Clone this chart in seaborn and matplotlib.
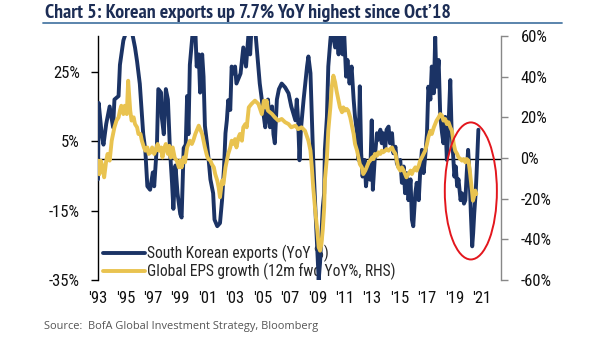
import matplotlib
matplotlib.use("Agg")
import matplotlib.pyplot as plt
import seaborn as sns
import pandas as pd
from matplotlib.patches import Ellipse
from matplotlib.lines import Line2D

# ---------------- data ----------------
export_years = [1993.00, 1993.05, 1993.27, 1993.40, 1993.60, 1993.85, 1994.10, 1994.20, 1994.50, 1994.60,
                1994.85, 1995.10, 1995.40, 1995.70, 1995.85, 1996.05, 1996.30, 1996.45, 1996.60, 1996.80,
                1997.00, 1997.10, 1997.30, 1997.40, 1997.60, 1997.65, 1997.80, 1997.95, 1998.10, 1998.25,
                1998.40, 1998.50, 1998.65, 1998.80, 1999.00, 1999.10, 1999.25, 1999.40, 1999.50, 1999.60,
                1999.70, 1999.90, 2000.10, 2000.20, 2000.35, 2000.45, 2000.60, 2000.70, 2000.80, 2000.95,
                2001.05, 2001.20, 2001.40, 2001.50, 2001.70, 2001.90, 2002.05, 2002.20, 2002.30, 2002.40,
                2002.50, 2002.65, 2002.75, 2002.90, 2003.00, 2003.10, 2003.40, 2003.60, 2003.80, 2004.00,
                2004.10, 2004.20, 2004.45, 2004.60, 2004.70, 2004.80, 2004.95, 2005.10, 2005.20, 2005.30,
                2005.40, 2005.55, 2005.70, 2005.80, 2005.90, 2006.05, 2006.20, 2006.40, 2006.65, 2006.90,
                2007.10, 2007.40, 2007.50, 2007.60, 2007.70, 2007.80, 2008.00, 2008.25, 2008.35, 2008.50,
                2008.60, 2008.70, 2008.85, 2009.00, 2009.10, 2009.20, 2009.30, 2009.40, 2009.50, 2009.55,
                2009.70, 2009.80, 2009.95, 2010.05, 2010.30, 2010.40, 2010.55, 2010.65, 2010.85, 2010.95,
                2011.10, 2011.20, 2011.35, 2011.50, 2011.65, 2011.75, 2011.90, 2012.00, 2012.10, 2012.20,
                2012.30, 2012.45, 2012.55, 2012.70, 2012.85, 2012.97, 2013.05, 2013.20, 2013.35, 2013.45,
                2013.60, 2013.70, 2013.80, 2013.95, 2014.05, 2014.20, 2014.30, 2014.45, 2014.55, 2014.70,
                2014.80, 2014.90, 2015.05, 2015.17, 2015.30, 2015.40, 2015.50, 2015.65, 2015.80, 2015.90,
                2016.00, 2016.15, 2016.25, 2016.40, 2016.50, 2016.63, 2016.75, 2016.87, 2017.00, 2017.10,
                2017.25, 2017.35, 2017.50, 2017.60, 2017.70, 2017.85, 2017.97, 2018.10, 2018.20, 2018.33,
                2018.45, 2018.57, 2018.70, 2018.80, 2018.90, 2019.00, 2019.10, 2019.20, 2019.30, 2019.45,
                2019.55, 2019.70, 2019.80, 2019.90, 2020.00, 2020.10, 2020.20, 2020.30, 2020.37, 2020.45,
                2020.55, 2020.62, 2020.68, 2020.75]
export_yoy = [-6, 16, 7, 4, 10, 15, 9, 17, 18, 27,
              34, 37, 38, 32, 28, 21.5, 7, 2.5, -8, -9,
              -4, -8, 4, 20, 19, 12, 7, 20, 17, 2.5,
              -7, -14.5, -2, -10, -16, -17, 3, 4, 18, 7,
              27, 36, 37, 26.5, 30, 19, 30, 23.6, 9.4, 4.4,
              0.6, -6, -10, -17.6, -19.5, -18.6, -12, -2, 7.3, 11,
              16.8, 14, 26.5, 24.5, 26.5, 21.6, 24.5, 32, 26.5, 37,
              30, 38, 38, 31, 26.5, 21.6, 17, 12, 9, 12,
              17, 9, 15, 7, 4.4, 17, 20, 21.6, 20.5, 18.8,
              15, 11, 17, 11, -0.5, 8.3, 17, 26.5, 29.4, 24.6,
              12, -0.4, -13.8, -26.3, -35, -30, -22, -14, -10, 2.5,
              12, 26.5, 34, 38, 32, 38, 30, 38, 30, 37,
              23.6, 28.4, 21.6, 26.5, 17, 12, 7.3, -0.4, 20.8, 1.5,
              -5.2, -0.4, -8, -2.3, -6.1, 11, -9, 0.6, 7.3, 5.4,
              8.3, 4.4, 7.3, 2.5, 8.3, 9.2, 4.4, 7.3, 1.5, 3.4,
              -1.3, -2.3, -0.4, -7, -2.3, -10, -4.2, -12, -6, -17.6,
              -19.5, -10, -7, -12, -4.2, 2.5, -4.2, 0.6, 7.3, 20.7,
              17, 26.5, 18.8, 35, 20.7, 28.4, 12, 7.3, 4.4, 12,
              -0.4, 9.2, 22.6, 7.3, 1.5, -5.2, -2.3, -8, -6, -12,
              -10, -13, -12, -4.2, 2.5, -4.2, -15.7, -25.3, -21.5, -15.7,
              -10, -4.2, 1.5, 8.3]

eps_years = [1993.00, 1993.10, 1993.20, 1993.35, 1993.45, 1993.60, 1993.70, 1993.85, 1994.00, 1994.10,
             1994.20, 1994.35, 1994.50, 1994.60, 1994.70, 1994.85, 1994.95, 1995.10, 1995.20, 1995.35,
             1995.45, 1995.60, 1995.70, 1995.85, 1995.95, 1996.10, 1996.20, 1996.35, 1996.45, 1996.60,
             1996.70, 1996.85, 1996.95, 1997.10, 1997.20, 1997.35, 1997.45, 1997.60, 1997.70, 1997.85,
             1997.95, 1998.10, 1998.20, 1998.30, 1998.45, 1998.60, 1998.75, 1998.90, 1999.00, 1999.10,
             1999.25, 1999.35, 1999.50, 1999.60, 1999.70, 1999.85, 1999.95, 2000.10, 2000.20, 2000.35,
             2000.45, 2000.60, 2000.70, 2000.80, 2000.95, 2001.05, 2001.20, 2001.30, 2001.45, 2001.55,
             2001.70, 2001.80, 2001.90, 2002.05, 2002.15, 2002.30, 2002.40, 2002.50, 2002.65, 2002.75,
             2002.90, 2003.00, 2003.10, 2003.25, 2003.35, 2003.50, 2003.60, 2003.75, 2003.85, 2004.00,
             2004.20, 2004.45, 2004.70, 2004.95, 2005.10, 2005.20, 2005.30, 2005.40, 2005.70, 2005.90,
             2006.15, 2006.40, 2006.65, 2006.90, 2007.10, 2007.40, 2007.60, 2007.85, 2008.10, 2008.35,
             2008.50, 2008.60, 2008.70, 2008.85, 2009.00, 2009.10, 2009.20, 2009.30, 2009.40, 2009.50,
             2009.55, 2009.70, 2009.80, 2009.95, 2010.05, 2010.17, 2010.30, 2010.40, 2010.55, 2010.65,
             2010.80, 2010.90, 2011.00, 2011.15, 2011.25, 2011.40, 2011.50, 2011.65, 2011.75, 2011.90,
             2012.00, 2012.10, 2012.25, 2012.35, 2012.50, 2012.60, 2012.75, 2012.85, 2013.00, 2013.10,
             2013.20, 2013.35, 2013.45, 2013.60, 2013.70, 2013.80, 2013.95, 2014.05, 2014.20, 2014.30,
             2014.45, 2014.55, 2014.70, 2014.80, 2014.90, 2015.05, 2015.17, 2015.30, 2015.40, 2015.50,
             2015.65, 2015.80, 2015.90, 2016.00, 2016.15, 2016.25, 2016.40, 2016.50, 2016.63, 2016.75,
             2016.87, 2017.00, 2017.10, 2017.25, 2017.35, 2017.50, 2017.60, 2017.70, 2017.85, 2017.97,
             2018.10, 2018.20, 2018.33, 2018.45, 2018.57, 2018.70, 2018.82, 2018.95, 2019.06, 2019.20,
             2019.30, 2019.45, 2019.55, 2019.67, 2019.80, 2019.90, 2020.03, 2020.15, 2020.28, 2020.35,
             2020.42, 2020.52, 2020.60]
eps_yoy = [-1.3, -8, -1.3, -4.6, -9.5, -1.3, 2, -1.3, 8.5, 11.8,
           15.1, 18.4, 20, 23.3, 25.7, 21.6, 25.7, 21.6, 38, 23.3,
           18.4, 20, 16.7, 15.1, 11.8, 11.8, 8.5, 5.2, 3.6, 5.2,
           2, 2.8, 5.2, 2, 3.6, 6.9, 3.6, 5.2, 0.3, 5.2,
           6.9, 2, 6, 0.3, 5.2, 0, -1.3, -4.6, -1.3, -4.6,
           0.3, -2.1, 5.2, 6.9, 8.5, 6.9, 8.5, 11.8, 13.4, 15.9,
           14.2, 11.8, 8.5, 5.2, 1.1, -0.5, -1.3, -3, -4.6, -7.9,
           -11.1, -14.4, -19.3, -11.1, -12.8, -4.6, -1.3, 2, 5.2, 8.5,
           6.9, 9.3, 5.2, 10.2, 11.8, 8.5, 15.1, 16.7, 15.1, 24.9,
           26.6, 28.2, 26.6, 21.6, 28.2, 24.9, 28.2, 23.3, 21.6, 20,
           18.4, 19.2, 17.6, 16.7, 15.1, 15.9, 14.2, 15.1, 13.4, 8.5,
           3.6, -4.6, -14.4, -25.9, -35.8, -43.9, -45.6, -42.3, -35, -24.3,
           -11.1, 0.3, 13.4, 24.9, 34.8, 40.5, 37.2, 33.1, 28.2, 24.9,
           22.5, 24.9, 23.3, 24.1, 23.3, 20, 16.7, 11.8, 6.9, 3.6,
           0.3, -3, -4.6, -7.9, -6.2, -4.6, -2.1, -1.3, 0.3, -0.5,
           2, 1.1, 2.8, 2, 3.6, 2.8, 3.6, 4.4, 3.6, 4.4,
           5.2, 3.6, 2, -1.3, -4.6, -6.2, -4.6, -6.2, -7.9, -9.5,
           -7.9, -6.2, -7.9, -6.2, -4.6, -6.2, -3.8, -1.3, 0.3, 2,
           3.6, 6.9, 10.2, 13.4, 11.8, 15.1, 16.7, 18.4, 20, 21.6,
           20.8, 18.4, 19.2, 16.7, 17.6, 15.1, 13.4, 6.9, 3.6, 2,
           0.3, -0.5, -1.3, -0.5, -2.1, -0.5, -1.3, -7.9, -16, -21,
           -19.3, -16, -17.7]

year_ticks = list(range(1993, 2022, 2))
year_labels = ["'93", "'95", "'97", "'99", "'01", "'03", "'05", "'07", "'09", "'11",
               "'13", "'15", "'17", "'19", "'21"]
left_ticks = [25, 5, -15, -35]
right_ticks = [60, 40, 20, 0, -20, -40, -60]

series_names = ["South Korean exports (YoY %)", "Global EPS growth (12m fwd YoY%, RHS)"]
title = "Chart 5: Korean exports up 7.7% YoY highest since Oct\u201918"
source = "Source:  BofA Global Investment Strategy, Bloomberg"

exports_df = pd.DataFrame({"year": export_years, "value": export_yoy})
eps_df = pd.DataFrame({"year": eps_years, "value": eps_yoy})

# ---------------- style ----------------
sns.set_theme(style="white")
plt.rcParams["font.family"] = ["Roboto Condensed", "Liberation Sans", "DejaVu Sans"]

NAVY = "#1b3365"
GOLD = "#e9c350"
LW = 2.8

fig = plt.figure(figsize=(6.05, 3.41), dpi=100)
W, H = 605, 341
ax = fig.add_axes([98 / W, 1 - 280 / H, 403 / W, 244 / H])
ax2 = ax.twinx()

ax.axhline(0, color="black", lw=1.0, zorder=1)
sns.lineplot(data=exports_df, x="year", y="value", ax=ax, color=NAVY, lw=LW,
             estimator=None, sort=False, zorder=3)
sns.lineplot(data=eps_df, x="year", y="value", ax=ax2, color=GOLD, lw=LW,
             estimator=None, sort=False, zorder=3)

ax.set_xlim(1993, 2022.4)
ax.set_ylim(-35, 35.3)
ax2.set_ylim(-60, 60)

ax.set_xlabel("")
ax.set_ylabel("")
ax2.set_ylabel("")

ax.set_xticks(year_ticks)
ax.set_xticklabels(year_labels)
ax.set_yticks(left_ticks)
ax.set_yticklabels([f"{v}%" for v in left_ticks])
ax2.set_yticks(right_ticks)
ax2.set_yticklabels([f"{v}%" for v in right_ticks])

ax.tick_params(axis="x", length=0, pad=8, labelsize=12, labelcolor="#111111")
ax.tick_params(axis="y", left=True, direction="out", length=5, width=1, color="black",
               pad=8, labelsize=12, labelcolor="#111111")
ax2.tick_params(axis="y", right=True, direction="out", length=5, width=1, color="#888888",
                pad=9, labelsize=12, labelcolor="#111111")

for s in ["top", "right", "bottom"]:
    ax.spines[s].set_visible(False)
ax.spines["left"].set_color("black")
ax.spines["left"].set_linewidth(1.0)
for s in ["top", "left", "bottom"]:
    ax2.spines[s].set_visible(False)
ax2.spines["right"].set_color("#888888")
ax2.spines["right"].set_linewidth(1.0)
ax.grid(False)
ax2.grid(False)

handles = [Line2D([0], [0], color=NAVY, lw=LW), Line2D([0], [0], color=GOLD, lw=LW)]
leg = ax.legend(handles, series_names, loc="lower left", bbox_to_anchor=(0.012, 0.0),
                frameon=False, fontsize=11.2, handlelength=2.7, handletextpad=0.12,
                labelspacing=0.05, borderpad=0.0, borderaxespad=0.0)
leg.set_zorder(2)

ell = Ellipse((2020.2, -16.2), width=3.8, height=67.4, fill=False, edgecolor="#e3161d",
              lw=1.4, zorder=6, clip_on=False)
ax2.add_patch(ell)

fig.text(45 / W, 1 - 18.5 / H, title, fontsize=14.3, fontweight="bold", color="#1c2d55",
         va="baseline", ha="left", family=["PT Sans Narrow", "DejaVu Sans"])
fig.add_artist(Line2D([43 / W, 562 / W], [1 - 23 / H, 1 - 23 / H], color="#4d7ba6", lw=1.3,
                      transform=fig.transFigure))
fig.text(44 / W, 1 - 327 / H, source, fontsize=7.9, color="#555555", va="center", ha="left",
         family=["Open Sans", "DejaVu Sans"])

fig.savefig("out.png", dpi=100)
